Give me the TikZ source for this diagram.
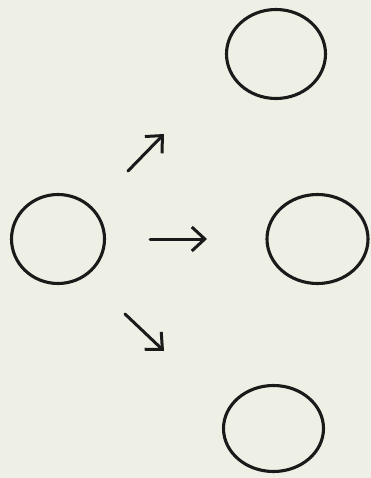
\documentclass[tikz,border=0pt]{standalone}
\usepackage{xcolor}
\usepackage{tikz}
\usetikzlibrary{arrows.meta,shapes.geometric}
\definecolor{sppaper}{HTML}{EEF0E5}
\definecolor{spink}{HTML}{1A1A1A}
\tikzset{
  gblob/.style={ellipse, draw=spink, line width=3.1pt, inner sep=0pt},
  gdir/.style={draw=spink, line width=3pt, line cap=round, -{Straight Barb[length=13pt, width=24pt, line width=3pt]}}
}
\begin{document}
\begin{tikzpicture}[x=1pt, y=-1pt]
  % paper
  \fill[sppaper] (0,0) rectangle (371,478);
  % source
  \node[gblob, minimum width=93pt, minimum height=89pt] (src) at (58,239) {};
  % targets
  \node[gblob, minimum width=99pt, minimum height=89pt] (up) at (276,54) {};
  \node[gblob, minimum width=101pt, minimum height=89pt] (mid) at (317.5,239) {};
  \node[gblob, minimum width=100pt, minimum height=86pt] (low) at (273.5,428.5) {};
  % arrows
  \coordinate (u0) at (128,171);\coordinate (u1) at (164,134);
  \coordinate (m0) at (150,239);\coordinate (m1) at (207,239);
  \coordinate (d0) at (125,314);\coordinate (d1) at (164,351);
  \path[gdir] (u0) -- (u1);
  \path[gdir] (m0) -- (m1);
  \path[gdir] (d0) -- (d1);
\end{tikzpicture}
\end{document}
